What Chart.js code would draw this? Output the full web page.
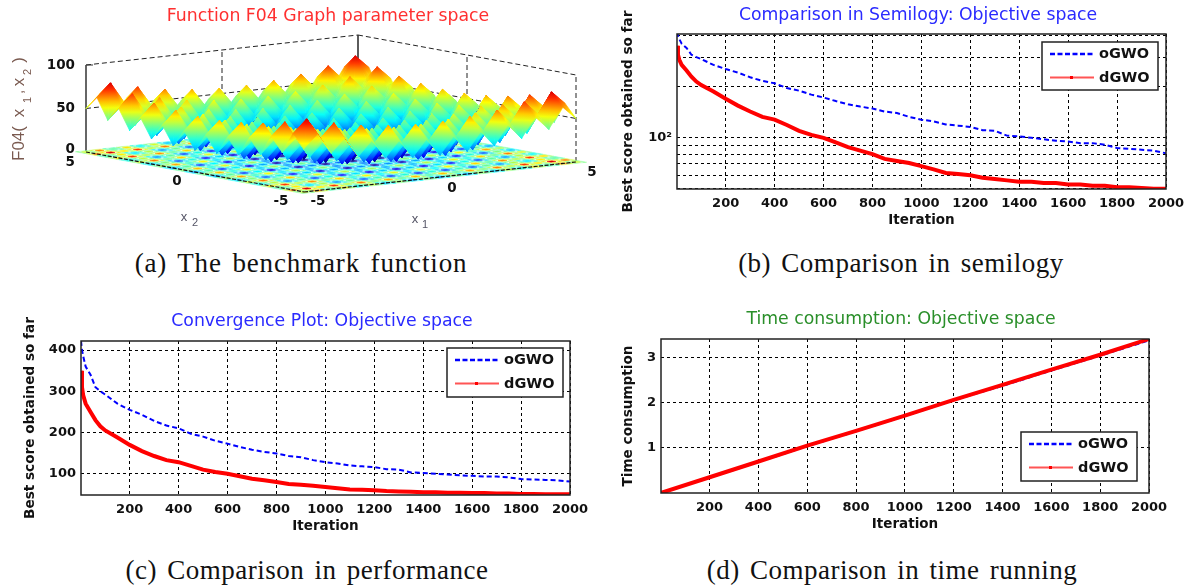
<!DOCTYPE html>
<html><head><meta charset="utf-8">
<script src="https://cdn.jsdelivr.net/npm/chart.js@4"></script>
<style>
html,body{margin:0;padding:0;background:#fff;width:1189px;height:587px;overflow:hidden}
canvas{position:absolute;filter:blur(0.35px)}
.cap{position:absolute;font-family:"Liberation Serif",serif;font-size:27px;letter-spacing:0.5px;color:#111;white-space:nowrap;transform:translateX(-50%);line-height:30px;word-spacing:3px}
</style></head><body>
<canvas id="ca" width="656" height="245" style="left:0;top:0"></canvas>
<canvas id="cb" width="594" height="240" style="left:620px;top:0"></canvas>
<canvas id="cc" width="605" height="240" style="left:15px;top:300px"></canvas>
<canvas id="cd" width="565" height="240" style="left:615px;top:300px"></canvas>
<div class="cap" style="left:301px;top:248px;letter-spacing:0.85px">(a) The benchmark function</div>
<div class="cap" style="left:901px;top:248px">(b) Comparison in semilogy</div>
<div class="cap" style="left:307px;top:555px">(c) Comparison in performance</div>
<div class="cap" style="left:892px;top:555px">(d) Comparison in time running</div>
<script>
// ---------- data ----------
const iterations = [1,5,10,20,40,60,80,100,150,200,250,300,350,400,450,500,550,600,650,700,750,800,850,900,950,1000,1050,1100,1150,1200,1250,1300,1350,1400,1450,1500,1550,1600,1650,1700,1750,1800,1850,1900,1950,2000];
const oGWO = [422,400,385,360,340,310,300,292,270,255,243,228,217,210,197,190,180,173,165,158,153,149,143,140,133,128,125,120,118,116,111,110,103,102,100,98,96,95,93,93,91,87,86,85,84,81];
const dGWO = [350,310,290,270,250,230,215,205,188,170,155,143,133,128,119,110,104,100,94,88,84,80,75,73,71,68,65,62,61,60,58,57,56,55,55,54,54,53,53,52,52,51,51,50.5,50,50];
const timeIter = [1,200,400,600,800,1000,1200,1400,1600,1800,2000];
const oGWOtime = [0.002,0.34,0.69,1.04,1.37,1.71,2.06,2.38,2.72,3.05,3.39];
const dGWOtime = [0.002,0.35,0.70,1.05,1.38,1.72,2.07,2.40,2.74,3.07,3.42];
const iterTicks = [200,400,600,800,1000,1200,1400,1600,1800,2000];
const logGridTicks = [50,60,70,80,90,100,200,300,400];
const linearTicks = [100,200,300,400];
const timeTicks = [1,2,3];
// F04 surface heights at half-unit steps of x1, x2 over [-5, 5]
const surfaceHeights = [
[50,65,41,57,34,51,29,47,26,45,25,45,26,47,29,51,34,57,41,65,50],
[65,80,56,72,49,66,44,62,41,60,40,60,41,62,44,66,49,72,56,80,65],
[41,56,32,48,25,42,20,38,17,36,16,36,17,38,20,42,25,48,32,56,41],
[57,72,48,64,41,58,36,54,33,52,32,52,33,54,36,58,41,64,48,72,57],
[34,49,25,41,18,35,13,31,10,29,9,29,10,31,13,35,18,41,25,49,34],
[51,66,42,58,35,52,30,48,27,46,26,46,27,48,30,52,35,58,42,66,51],
[29,44,20,36,13,30,8,26,5,24,4,24,5,26,8,30,13,36,20,44,29],
[47,62,38,54,31,48,26,44,23,42,22,42,23,44,26,48,31,54,38,62,47],
[26,41,17,33,10,27,5,23,2,21,1,21,2,23,5,27,10,33,17,41,26],
[45,60,36,52,29,46,24,42,21,40,20,40,21,42,24,46,29,52,36,60,45],
[25,40,16,32,9,26,4,22,1,20,0,20,1,22,4,26,9,32,16,40,25],
[45,60,36,52,29,46,24,42,21,40,20,40,21,42,24,46,29,52,36,60,45],
[26,41,17,33,10,27,5,23,2,21,1,21,2,23,5,27,10,33,17,41,26],
[47,62,38,54,31,48,26,44,23,42,22,42,23,44,26,48,31,54,38,62,47],
[29,44,20,36,13,30,8,26,5,24,4,24,5,26,8,30,13,36,20,44,29],
[51,66,42,58,35,52,30,48,27,46,26,46,27,48,30,52,35,58,42,66,51],
[34,49,25,41,18,35,13,31,10,29,9,29,10,31,13,35,18,41,25,49,34],
[57,72,48,64,41,58,36,54,33,52,32,52,33,54,36,58,41,64,48,72,57],
[41,56,32,48,25,42,20,38,17,36,16,36,17,38,20,42,25,48,32,56,41],
[65,80,56,72,49,66,44,62,41,60,40,60,41,62,44,66,49,72,56,80,65],
[50,65,41,57,34,51,29,47,26,45,25,45,26,47,29,51,34,57,41,65,50]];
// ------------------------------------------------

const SANS='"DejaVu Sans"', INK='#111';
const pts=(xs,ys)=>xs.map((x,i)=>({x,y:ys[i]}));

const frameLegend={
  id:'frameLegend',
  afterDraw(ch,a,o){
    const c=ch.ctx,A=ch.chartArea;
    c.save();
    c.strokeStyle='#222';c.lineWidth=1.5;c.strokeRect(A.left,A.top,A.right-A.left,A.bottom-A.top);
    const x=A.right-o.right-o.w,y=A.top+o.top;
    c.fillStyle='#fff';c.fillRect(x,y,o.w,o.h);
    c.strokeStyle='#222';c.lineWidth=1.5;c.strokeRect(x,y,o.w,o.h);
    const rows=[['oGWO','#0000ff',[5,2.5],2.5],['dGWO','#ff5555',[],2]];
    rows.forEach((r,i)=>{
      const ly=y+12+i*23.5;
      c.beginPath();c.setLineDash(r[2]);c.strokeStyle=r[1];c.lineWidth=r[3];
      c.moveTo(x+8,ly);c.lineTo(x+52,ly);c.stroke();c.setLineDash([]);
      if(i){c.fillStyle='#f00';c.fillRect(x+28,ly-1.5,3,3);}
      c.fillStyle=INK;c.font='bold 14.5px '+SANS;c.textAlign='left';c.textBaseline='middle';
      c.fillText(r[0],x+57,ly+0.5);
    });
    c.restore();
  }
};

function linePanel(id,cfg){
  const W=cfg.W,H=cfg.H;
  new Chart(document.getElementById(id),{
    type:'line',
    data:{datasets:[
      {label:'oGWO',data:cfg.o,borderColor:'#0000ff',backgroundColor:'#0000ff',borderWidth:2,borderDash:[5,3],pointRadius:0,order:2,tension:0},
      {label:'dGWO',data:cfg.d,borderColor:'#ff0000',backgroundColor:'#ff0000',borderWidth:4,pointRadius:0,order:1,tension:0}
    ]},
    plugins:[frameLegend],
    options:{
      responsive:false,animation:false,events:[],
      layout:{padding:{left:cfg.lp,right:0,top:0,bottom:H-cfg.plotBottom-38}},
      plugins:{
        legend:{display:false},tooltip:{enabled:false},
        title:{display:true,text:cfg.title,color:cfg.titleColor,font:{family:SANS,size:17.3,weight:'normal',lineHeight:1},
          padding:{top:cfg.plotTop-cfg.titleGap-8.65,bottom:cfg.titleGap-8.65}},
        frameLegend:cfg.legend
      },
      scales:{
        x:{type:'linear',min:1,max:2000,
          afterBuildTicks:s=>{s.ticks=iterTicks.map(v=>({value:v}));},
          afterFit:s=>{s.height=38;},
          grid:{color:'#000',lineWidth:1,drawTicks:false},
          border:{display:false,dash:[3,3]},
          ticks:{autoSkip:false,maxRotation:0,padding:6.5,color:INK,font:{family:SANS,size:13,weight:'bold'},callback:v=>String(v)},
          title:{display:true,text:'Iteration',color:INK,font:{family:SANS,size:13.5,weight:'bold',lineHeight:1},padding:{top:0,bottom:0}}
        },
        y:{type:cfg.yType,min:cfg.yMin,max:cfg.yMax,
          afterBuildTicks:s=>{s.ticks=cfg.yTicks.map(v=>({value:v}));},
          afterFit:s=>{s.width=cfg.plotLeft-cfg.lp;},
          grid:{color:'#000',lineWidth:1,drawTicks:false},
          border:{display:false,dash:[3,3]},
          ticks:{autoSkip:false,padding:5,color:INK,font:{family:SANS,size:13,weight:'bold'},callback:cfg.yCb},
          title:{display:true,text:cfg.yTitle,color:INK,font:{family:SANS,size:cfg.yTitleSize,weight:'bold',lineHeight:1},padding:{top:0,bottom:0}}
        },
        spacer:{type:'linear',position:'right',display:true,grid:{display:false},border:{display:false},
          ticks:{display:false},afterFit:s=>{s.width=W-cfg.right;}}
      }
    }
  });
}

linePanel('cb',{W:594,H:240,lp:2,plotLeft:57,right:546,plotTop:34,plotBottom:189,titleGap:18,
  title:'Comparison in Semilogy: Objective space',titleColor:'#2a2aff',
  o:pts(iterations,oGWO),d:pts(iterations,dGWO),
  yType:'logarithmic',yMin:49.8,yMax:411,yTicks:logGridTicks,yCb:v=>v===100?'10\u00B2':'',
  yTitle:'Best score obtained so far',yTitleSize:13.6,
  legend:{w:116,h:48,right:8,top:8}});

linePanel('cc',{W:605,H:240,lp:9,plotLeft:66,right:555,plotTop:41,plotBottom:195,titleGap:19,
  title:'Convergence Plot: Objective space',titleColor:'#2a2aff',
  o:pts(iterations,oGWO),d:pts(iterations,dGWO),
  yType:'linear',yMin:48.4,yMax:422,yTicks:linearTicks,yCb:v=>String(v),
  yTitle:'Best score obtained so far',yTitleSize:13.6,
  legend:{w:116,h:49,right:7,top:7}});

linePanel('cd',{W:565,H:240,lp:7,plotLeft:46,right:534,plotTop:39,plotBottom:193,titleGap:19,
  title:'Time consumption: Objective space',titleColor:'#2a8f2a',
  o:pts(timeIter,oGWOtime),d:pts(timeIter,dGWOtime),
  yType:'linear',yMin:0,yMax:3.42,yTicks:timeTicks,yCb:v=>String(v),
  yTitle:'Time consumption',yTitleSize:13.6,
  legend:{w:116,h:49,right:12,top:93}});

// ---------- panel (a): surface projected into a flat scene ----------
const view={ox:304,oy:192,x1:[27.2,-3],x2:[-21.8,-4],z:0.87};
const proj=(x1,x2,z)=>({x:view.ox+(x1+5)*view.x1[0]+(x2+5)*view.x2[0],y:view.oy+(x1+5)*view.x1[1]+(x2+5)*view.x2[1]-z*view.z});
function jet(t){ t=Math.max(0,Math.min(1,t));
  const f=(a)=>Math.round(255*Math.max(0,Math.min(1,1.5-Math.abs(4*t-a))));
  return `rgb(${f(3)},${f(2)},${f(1)})`; }
const zc=z=>jet(z/88);
const ds=[];
const seg=(a,b,color,width,dash)=>ds.push({data:[a,b],borderColor:color,borderWidth:width,borderDash:dash||[],pointRadius:0,fill:false,tension:0,clip:false});
const wall=[5,3];
const L=[-5,5],B=[5,5],R=[5,-5];
const P=(c,z)=>proj(c[0],c[1],z);
seg(P(L,100),P(B,100),'#222',1,wall);seg(P(B,100),P(R,100),'#222',1,wall);
seg(P(L,50),P(B,50),'#222',1,wall);seg(P(B,50),P(R,50),'#222',1,wall);
seg(P(B,0),P(B,100),'#333',1.6,[]);
seg(P(R,0),P(R,100),'#222',1,wall);
seg(P([0,5],0),P([0,5],100),'#222',1,wall);
seg(P([5,0],0),P([5,0],100),'#222',1,wall);
seg(P(L,0),P(L,100),'#666',2,[]);
seg(P(L,100),{x:P(L,100).x+7,y:P(L,100).y},'#333',1,[]);
const n=surfaceHeights.length, gx=i=>-5+i*0.5;
function poly(vertices,fillColor,stroke,width){
  ds.push({data:[...vertices,vertices[0]],fill:'shape',backgroundColor:fillColor,borderColor:stroke,borderWidth:width,pointRadius:0,tension:0,clip:false});
}
for(let i=n-1;i>=0;i--)for(let j=n-1;j>=0;j--){
  const z=surfaceHeights[i][j], a=gx(i), b=gx(j);
  const dia=r=>[proj(a-r,b-r,0),proj(a+r,b-r,0),proj(a+r,b+r,0),proj(a-r,b+r,0)];
  const outer=zc(z*0.45+38*0.55);
  poly(dia(.22),outer,outer,0.3);
  poly(dia(.15),'#ffffff','#ffffff',0.2);
  poly(dia(.09),zc(z),zc(z),0.5);
}
seg(P(L,0),P([-5,-5],0),'#111',1.2,[4,1.5]);
seg(P([-5,-5],0),P(R,0),'#111',1.2,[4,1.5]);
function triFill(T){
  return c=>{
    const ch=c.chart,sx=ch.scales.x,sy=ch.scales.y;
    const flat=zc((T[0].z+T[1].z+T[2].z)/3);
    if(!sx||!sy) return flat;
    const p=T.map(v=>({x:sx.getPixelForValue(v.x),y:sy.getPixelForValue(v.y),z:v.z}));
    const lo=p.reduce((m,v)=>v.z<m.z?v:m), hi=p.reduce((m,v)=>v.z>m.z?v:m);
    const ux=p[1].x-p[0].x,uy=p[1].y-p[0].y,vx=p[2].x-p[0].x,vy=p[2].y-p[0].y;
    const det=ux*vy-uy*vx;
    const dz1=p[1].z-p[0].z,dz2=p[2].z-p[0].z;
    if(!(Math.abs(det)>=0.5)||hi.z===lo.z) return flat;
    const gx_=(dz1*vy-dz2*uy)/det, gy_=(dz2*ux-dz1*vx)/det, g2=gx_*gx_+gy_*gy_;
    const k=(hi.z-lo.z)/g2, ex=lo.x+gx_*k, ey=lo.y+gy_*k;
    if(![lo.x,lo.y,ex,ey].every(Number.isFinite)) return flat;
    const g=ch.ctx.createLinearGradient(lo.x,lo.y,ex,ey);
    for(let s=0;s<=6;s++){const t=s/6;g.addColorStop(t,zc(lo.z+(hi.z-lo.z)*t));}
    return g;
  };
}
function tri(T){const f=triFill(T);poly(T.map(v=>({x:v.x,y:v.y})),f,f,0.7);}
for(let s=2*(n-2);s>=0;s--)for(let i=0;i<n-1;i++){
  const j=s-i; if(j<0||j>=n-1) continue;
  const V=(a,b)=>{const z=surfaceHeights[a][b];const p=proj(gx(a),gx(b),z);return{x:p.x,y:p.y,z};};
  const q=[V(i,j),V(i+1,j),V(i+1,j+1),V(i,j+1)];
  const hs=q.map(v=>v.z),mx=hs.indexOf(Math.max(...hs));
  if(mx%2===0){tri([q[1],q[2],q[0]]);tri([q[3],q[0],q[2]]);}
  else{tri([q[0],q[1],q[3]]);tri([q[2],q[3],q[1]]);}
}
ds.reverse();

const labelsA=[
 ['100',75,65,'b'],['50',75,108,'b'],['0',75,149,'b'],['5',75,162,'b'],
 ['0',177,181,'b'],['-5',281,201,'b'],['-5',318,201,'b'],['0',452,188,'b'],['5',592,172,'b'],
 ['x',184,217,'s'],['2',195,223,'ss'],['x',415,219,'s'],['1',425,225,'ss']
];
new Chart(document.getElementById('ca'),{
  type:'line',
  data:{datasets:ds},
  plugins:[{id:'textA',afterDraw(ch){
    const c=ch.ctx,sx=ch.scales.x,sy=ch.scales.y;
    c.save();c.textBaseline='middle';
    labelsA.forEach(l=>{
      c.font=l[3]==='b'?'bold 13.5px '+SANS:(l[3]==='s'?'13px "Liberation Sans"':'11px "Liberation Sans"');
      c.fillStyle=l[3]==='b'?INK:'#556';
      c.textAlign=(l[1]===75)?'right':'center';
      c.fillText(l[0],sx.getPixelForValue(l[1]),sy.getPixelForValue(l[2]));
    });
    const rot=[['F04(',19,161,'17px'],['x',19,113,'17px'],['1',28,100,'11px'],[',',19,92,'15px'],['x',19,82,'17px'],['2',28,72,'11px'],[')',19,60,'17px']];
    rot.forEach(r=>{
      c.save();c.translate(sx.getPixelForValue(r[1]),sy.getPixelForValue(r[2]));c.rotate(-Math.PI/2);
      c.font=r[3]+' "Liberation Sans"';c.fillStyle='#7a5a50';c.textAlign=r[0]==='F04('?'left':'center';
      c.fillText(r[0],0,0);c.restore();
    });
    c.restore();
  }}],
  options:{
    responsive:false,animation:false,events:[],
    layout:{padding:0},
    plugins:{legend:{display:false},tooltip:{enabled:false},
      title:{display:true,text:'Function F04 Graph parameter space',color:'#ff3030',
        font:{family:SANS,size:17.3,weight:'normal',lineHeight:1},padding:{top:8.35,bottom:4.35}}},
    scales:{
      x:{type:'linear',min:0,max:656,display:false},
      y:{type:'linear',min:30,max:245,reverse:true,display:false}
    }
  }
});
</script>
</body></html>
